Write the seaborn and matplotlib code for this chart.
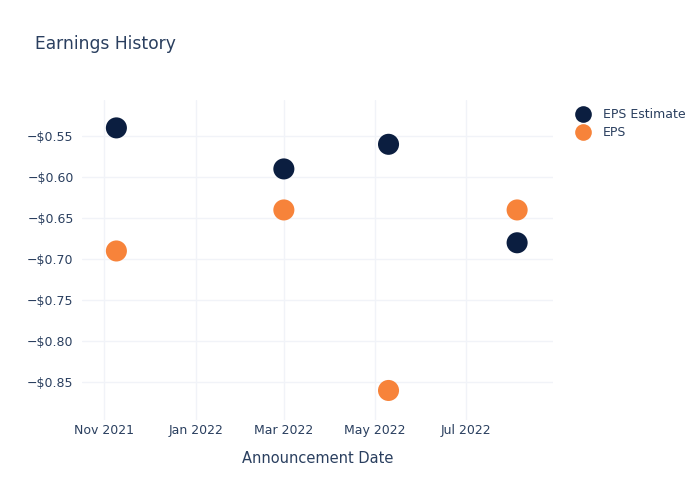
import matplotlib
matplotlib.use("Agg")
import matplotlib.pyplot as plt
import matplotlib.dates as mdates
from matplotlib.ticker import FuncFormatter, FixedLocator
import seaborn as sns
import pandas as pd

dates = ["2021-11-09", "2022-03-01", "2022-05-10", "2022-08-04"]
eps_estimate = [-0.54, -0.59, -0.56, -0.68]
eps_actual = [-0.69, -0.64, -0.86, -0.64]
series_names = ["EPS Estimate", "EPS"]
colors = ["#0b1e40", "#f7833a"]
y_ticks = [-0.55, -0.60, -0.65, -0.70, -0.75, -0.80, -0.85]
x_ticks = ["2021-11-01", "2022-01-01", "2022-03-01", "2022-05-01", "2022-07-01"]

df = pd.DataFrame({
    "date": pd.to_datetime(dates * 2),
    "value": eps_estimate + eps_actual,
    "series": [series_names[0]] * len(dates) + [series_names[1]] * len(dates),
})

sns.set_style("white")
plt.rcParams["font.family"] = ["DejaVu Sans"]
text_color = "#2a3f5f"

fig = plt.figure(figsize=(7, 5), dpi=100)
ax = fig.add_axes([82 / 700, 1 - 420 / 500, (553 - 82) / 700, 320 / 500])

sns.scatterplot(data=df, x="date", y="value", hue="series", palette=colors,
                s=230, edgecolor="none", ax=ax, zorder=3, legend=True)

ax.set_xlim(pd.Timestamp("2021-10-17"), pd.Timestamp("2022-08-28"))
ax.set_ylim(-0.896, -0.506)
ax.xaxis.set_major_locator(FixedLocator(mdates.date2num(pd.to_datetime(x_ticks))))
ax.xaxis.set_major_formatter(mdates.DateFormatter("%b %Y"))
ax.yaxis.set_major_locator(FixedLocator(y_ticks))
ax.yaxis.set_major_formatter(FuncFormatter(lambda v, p: "\u2212$%.2f" % abs(v)))

ax.grid(True, color="#f1f3f8", linewidth=1)
ax.set_axisbelow(True)
for s in ax.spines.values():
    s.set_visible(False)
ax.tick_params(axis="both", length=0, labelsize=9, labelcolor=text_color)
ax.tick_params(axis="y", pad=6)
ax.tick_params(axis="x", pad=3)

ax.set_xlabel("Announcement Date", fontsize=10.5, color=text_color, labelpad=10)
ax.set_ylabel("")

fig.text(35 / 700, 1 - 44 / 500, "Earnings History", fontsize=12.3,
         color=text_color, va="center", ha="left")

leg = ax.legend(loc="upper left", bbox_to_anchor=(1.027, 0.99), frameon=False,
                fontsize=9, handletextpad=0.6, labelspacing=0.4, borderaxespad=0)
for t in leg.get_texts():
    t.set_color(text_color)
for h in leg.legend_handles:
    if hasattr(h, "set_markersize"):
        h.set_markersize(12)

fig.savefig("out.png", dpi=100)
